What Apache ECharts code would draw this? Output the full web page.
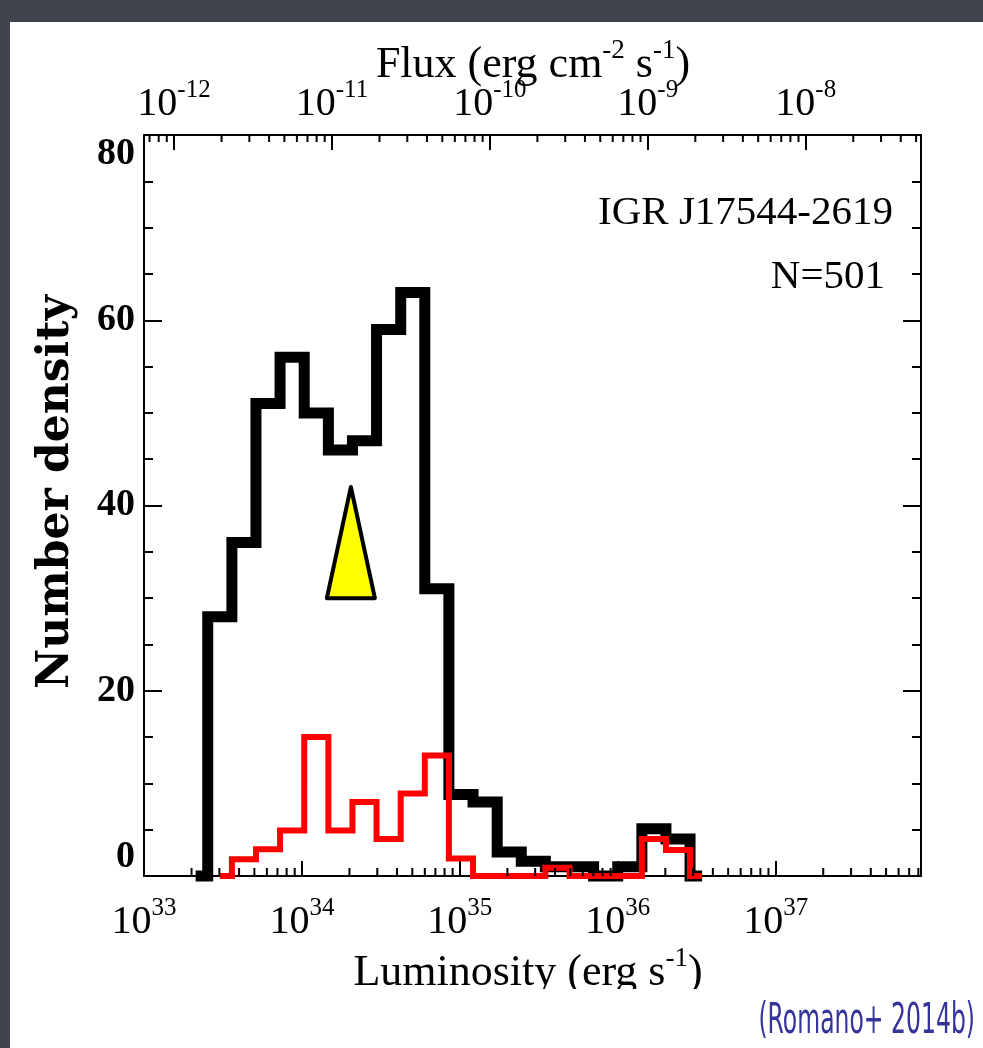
<!DOCTYPE html>
<html>
<head>
<meta charset="utf-8">
<script src="https://cdn.jsdelivr.net/npm/echarts@6/dist/echarts.min.js"></script>
<style>
html,body{margin:0;padding:0;background:#3f434c;}
#c{width:983px;height:1048px;}
</style>
</head>
<body>
<div id="c"></div>
<script>
// ---- data (log10 of luminosity for bin centres) ----
const binCenters = [33.327, 33.480, 33.633, 33.785, 33.938, 34.091, 34.244, 34.396, 34.549, 34.702,
                    34.854, 35.007, 35.160, 35.313, 35.465, 35.618, 35.771, 35.923, 36.076, 36.229,
                    36.381, 36.534];
// black histogram (all points), one value per bin
const allValues = [0, 28, 36, 51, 56, 50, 46, 47, 59, 63, 31, 8.8, 8, 2.6, 1.6, 1, 1, 0, 1, 5.1, 4, 0];
// red histogram, starts at the second bin
const redStartBin = 1;
const redValues = [0, 1.8, 2.9, 4.9, 15, 4.9, 8, 4, 8.9, 13, 1.9, 0, 0, 0, 0.9, 0, 0, 0, 4, 2.8, 0];
// luminosity axis ticks (log10 L) and flux axis ticks (log10 F)
const lumTicks = [33, 34, 35, 36, 37];
const fluxTicks = [-12, -11, -10, -9, -8];
const yTicks = [0, 20, 40, 60, 80];
// log10(L) - log10(F) offset between the two horizontal axes
const fluxOffset = 45.19;
const lumMin = 33, lumMax = 37.92;
// yellow marker: [centre logL, base y, apex y, half width in dex]
const marker = [[34.31, 30, 42, 0.152]];

const SERIF = "'Liberation Serif','Times New Roman',serif";

// log minor tick positions
const minorBottom = [];
for (let n = 32; n <= 38; n++) for (let k = 2; k <= 9; k++) {
  const v = n + Math.log10(k);
  if (v > lumMin && v < lumMax) minorBottom.push([v]);
}
const minorTop = [];
for (let n = -14; n <= -7; n++) for (let k = 2; k <= 9; k++) {
  const v = n + Math.log10(k);
  if (v > lumMin - fluxOffset && v < lumMax - fluxOffset) minorTop.push([v]);
}

const isInt = v => Math.abs(v - Math.round(v)) < 1e-6;
const powRich = {
  b: {fontFamily: SERIF, fontSize: 40, lineHeight: 46, verticalAlign: 'bottom', color: '#000'},
  s: {fontFamily: SERIF, fontSize: 25, lineHeight: 20, verticalAlign: 'top', color: '#000'}
};

const chart = echarts.init(document.getElementById('c'), null, {renderer: 'canvas', width: 983, height: 1048});

const axisLine = {show: true, onZero: false, lineStyle: {color: '#000', width: 2}};

const option = {
  animation: false,
  backgroundColor: '#3f434c',
  grid: {left: 144, right: 62, top: 135, bottom: 172, containLabel: false},
  xAxis: [
    {
      type: 'value', min: lumMin, max: lumMax, interval: 1, position: 'bottom',
      axisLine: axisLine,
      axisTick: {show: true, inside: true, length: 15, lineStyle: {color: '#000', width: 2}},
      axisLabel: {show: true, margin: 20,
        formatter: v => (isInt(v) && lumTicks.includes(Math.round(v))) ? `{b|10}{s|${Math.round(v)}}` : '',
        rich: powRich},
      splitLine: {show: false}
    },
    {
      type: 'value', min: lumMin - fluxOffset, max: lumMax - fluxOffset, minInterval: 1, maxInterval: 1,
      position: 'top',
      axisLine: axisLine,
      axisTick: {show: true, inside: true, length: 15, lineStyle: {color: '#000', width: 2}},
      axisLabel: {show: true, margin: 11,
        formatter: v => (isInt(v) && fluxTicks.includes(Math.round(v))) ? `{b|10}{s|${Math.round(v)}}` : '',
        rich: powRich},
      splitLine: {show: false}
    }
  ],
  yAxis: [
    {
      type: 'value', min: 0, max: 80, interval: 20, position: 'left',
      axisLine: axisLine,
      axisTick: {show: true, inside: true, length: 18, lineStyle: {color: '#000', width: 2}},
      minorTick: {show: true, splitNumber: 4, length: 9, lineStyle: {color: '#000', width: 2}},
      axisLabel: {show: true, margin: 9, fontFamily: SERIF, fontWeight: 'bold', fontSize: 38, color: '#000',
        verticalAlignMaxLabel: 'top', verticalAlignMinLabel: 'bottom',
        formatter: v => yTicks.includes(v) ? String(v) : ''},
      splitLine: {show: false}
    },
    {
      type: 'value', min: 0, max: 80, interval: 20, position: 'right',
      axisLine: axisLine,
      axisTick: {show: true, inside: true, length: 18, lineStyle: {color: '#000', width: 2}},
      minorTick: {show: true, splitNumber: 4, length: 9, lineStyle: {color: '#000', width: 2}},
      axisLabel: {show: false},
      splitLine: {show: false}
    }
  ],
  series: [
    {
      name: 'All', type: 'line', xAxisIndex: 0, yAxisIndex: 0, step: 'middle',
      symbol: 'none', clip: false, z: 3,
      lineStyle: {color: '#000', width: 11, join: 'miter', cap: 'butt'},
      data: binCenters.map((c, i) => [c, allValues[i]])
    },
    {
      name: 'Subset', type: 'line', xAxisIndex: 0, yAxisIndex: 0, step: 'middle',
      symbol: 'none', clip: false, z: 4,
      lineStyle: {color: '#ff0000', width: 6, join: 'miter', cap: 'butt'},
      data: redValues.map((v, i) => [binCenters[i + redStartBin], v])
    },
    {
      name: 'marker', type: 'custom', xAxisIndex: 0, yAxisIndex: 0, z: 5, clip: false,
      data: marker,
      renderItem: (params, api) => {
        const x = api.value(0), yb = api.value(1), yt = api.value(2), hw = api.value(3);
        const apex = api.coord([x, yt]);
        const bl = api.coord([x - hw, yb]);
        const br = api.coord([x + hw, yb]);
        return {type: 'polygon', shape: {points: [apex, br, bl]},
          style: {fill: '#ffff00', stroke: '#000', lineWidth: 4, lineJoin: 'round'}};
      }
    },
    {
      name: 'minorBottom', type: 'custom', xAxisIndex: 0, yAxisIndex: 0, z: 6, clip: false,
      data: minorBottom,
      renderItem: (params, api) => {
        const x = api.coord([api.value(0), 0])[0];
        const yb = params.coordSys.y + params.coordSys.height;
        return {type: 'line', shape: {x1: x, y1: yb, x2: x, y2: yb - 8},
          style: {stroke: '#000', lineWidth: 2}};
      }
    },
    {
      name: 'minorTop', type: 'custom', xAxisIndex: 1, yAxisIndex: 0, z: 6, clip: false,
      data: minorTop,
      renderItem: (params, api) => {
        const x = api.coord([api.value(0), 0])[0];
        const yt = params.coordSys.y;
        return {type: 'line', shape: {x1: x, y1: yt, x2: x, y2: yt + 7},
          style: {stroke: '#000', lineWidth: 2}};
      }
    }
  ],
  graphic: [
    {type: 'rect', z: -100, silent: true, shape: {x: 10, y: 22, width: 973, height: 1026}, style: {fill: '#ffffff'}},
    {type: 'text', x: 533, y: 62, silent: true, style: {
      text: '{t|Flux (erg cm}{s|-2}{t| s}{s|-1}{t|)}', align: 'center', verticalAlign: 'middle',
      rich: {
        t: {fontFamily: SERIF, fontSize: 44, lineHeight: 50, verticalAlign: 'bottom', fill: '#000'},
        s: {fontFamily: SERIF, fontSize: 27, lineHeight: 24, verticalAlign: 'top', fill: '#000'}
      }}},
    {type: 'text', x: 528, y: 970, silent: true, style: {
      text: '{t|Luminosity (erg s}{s|-1}{t|)}', align: 'center', verticalAlign: 'middle',
      rich: {
        t: {fontFamily: SERIF, fontSize: 44, lineHeight: 50, verticalAlign: 'bottom', fill: '#000'},
        s: {fontFamily: SERIF, fontSize: 27, lineHeight: 24, verticalAlign: 'top', fill: '#000'}
      }}},
    {type: 'rect', z: 100, silent: true, shape: {x: 330, y: 989, width: 400, height: 9}, style: {fill: '#ffffff'}},
    {type: 'text', x: 57, y: 492, rotation: Math.PI / 2, silent: true, style: {
      text: 'Number density', align: 'center', verticalAlign: 'middle',
      fontFamily: "'DejaVu Serif',serif", fontWeight: 'bold', fontSize: 44, fill: '#000'}},
    {type: 'text', x: 893, y: 213, silent: true, style: {
      text: 'IGR J17544-2619', align: 'right', verticalAlign: 'middle',
      fontFamily: SERIF, fontSize: 41, fill: '#000'}},
    {type: 'text', x: 885, y: 277, silent: true, style: {
      text: 'N=501', align: 'right', verticalAlign: 'middle',
      fontFamily: SERIF, fontSize: 41, fill: '#000'}},
    {type: 'text', x: 975, y: 1022, scaleX: 0.56, silent: true, style: {
      text: '(Romano+ 2014b)', align: 'right', verticalAlign: 'middle',
      fontFamily: "'DejaVu Sans','Noto Sans',sans-serif", fontSize: 42, fill: '#34349a'}}
  ]
};
chart.setOption(option);
</script>
</body>
</html>
